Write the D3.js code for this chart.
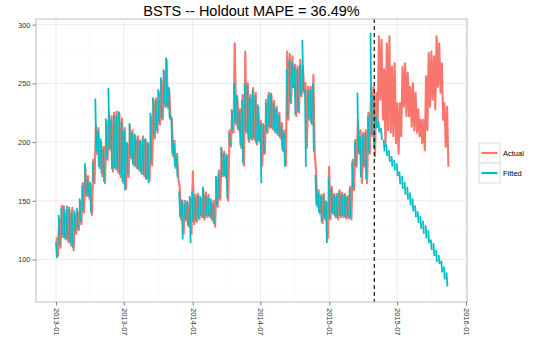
<!DOCTYPE html>
<html><head><meta charset="utf-8">
<script src="https://cdn.jsdelivr.net/npm/d3@7"></script>
<style>body{margin:0;background:#fff}svg text{font-family:"Liberation Sans",Arial,Helvetica,sans-serif}</style>
</head><body><svg id="c" width="540" height="355"></svg>
<script>
// ---- data (weekly high / low of the daily series) ----
const startDate = "2013-01-01";
const holdoutDate = "2015-05-01";
const chartTitle = "BSTS -- Holdout MAPE = 36.49%";
const seriesNames = ["Actual", "Fitted"];
const seriesColors = ["#F8766D", "#00BFC4"];
const xTickLabels = ["2013-01","2013-07","2014-01","2014-07","2015-01","2015-07","2016-01"];
const yTickValues = [100, 150, 200, 250, 300];

const actualHi = [119,135,146,140,145,142,144,139,140,150,
165,178,171,163,185,214,212,200,196,218,
226,222,225,226,224,220,212,198,214,210,
205,205,200,205,202,198,222,236,237,243,
252,260,270,245,220,201,190,161,150,150,
148,152,175,155,156,152,160,157,155,150,
150,170,176,194,192,188,210,226,284,238,
228,240,277,250,240,246,242,230,218,214,
236,242,240,235,230,225,216,210,277,275,
273,266,264,270,265,250,247,247,257,176,
159,155,156,148,179,162,156,156,159,157,
156,154,162,185,202,219,210,208,210,225,
247,247,242,290,287,262,284,290,264,267,
233,233,264,267,259,247,250,242,228,219,
219,256,276,277,273,290,284,267,233,230];
const actualLo = [103,110,119,117,115,112,108,122,125,130,
140,154,152,138,165,190,178,171,165,185,
193,175,177,174,170,165,160,170,186,180,
178,176,173,171,169,167,180,203,208,215,
219,230,229,219,188,178,168,134,122,133,
128,122,130,132,134,136,134,136,136,133,
128,145,151,171,170,150,196,208,215,210,
195,180,208,200,202,202,198,200,180,190,
208,212,211,208,206,203,192,180,219,233,
247,222,225,239,242,195,219,215,190,145,
139,131,134,118,134,139,136,134,136,136,
135,135,134,159,179,190,165,179,165,190,
205,188,213,236,219,196,210,208,205,199,
190,205,230,222,222,213,210,208,205,199,
193,210,230,236,228,247,242,219,196,179];
const fittedHi = [115,138,144,146,143,145,140,142,144,152,
163,182,168,166,183,237,210,203,194,220,
246,219,223,222,226,217,210,200,216,208,
207,202,202,203,203,200,225,238,235,245,
255,262,272,247,222,199,188,158,151,148,
150,154,158,153,155,154,162,155,153,152,
148,171,174,196,190,190,208,228,250,240,
226,236,250,248,238,244,240,232,215,216,
234,240,242,233,228,223,214,208,262,270,
268,264,262,266,287,245,244,245,250,172,
157,154,155,150,170,160,155,154,158,156,
155,153,160,183,200,242,205,206,208,222,
293,240,222,218,212,202,198,193,188,185,
182,175,171,166,162,157,152,146,141,137,
133,129,125,117,114,108,104,99,94,89];
const fittedLo = [101,112,121,118,117,114,110,123,126,132,
142,155,154,140,166,192,179,173,166,186,
194,177,178,176,172,166,159,172,188,181,
179,177,174,172,168,165,182,205,210,216,
220,232,230,220,190,179,170,136,117,134,
129,114,132,133,135,137,135,137,137,134,
130,146,152,172,171,152,197,210,216,211,
197,182,209,202,203,203,199,201,165,191,
209,213,212,209,207,204,193,179,220,234,
246,223,226,240,243,179,220,216,192,146,
140,132,135,114,135,140,137,135,137,137,
136,136,135,160,180,191,170,180,168,191,
206,195,212,208,202,192,188,183,179,176,
171,164,160,155,151,146,141,136,131,126,
122,118,114,108,103,98,96,89,83,77];

// ---- layout ----
const panel = {left: 36, right: 467, top: 19, bottom: 302};
const parse = d3.utcParse("%Y-%m-%d");
const t0 = parse(startDate);
const dayAt = n => new Date(t0.getTime() + n * 864e5);

const actualPts = [];
actualHi.forEach((h, w) => {
  actualPts.push({t: dayAt(w * 7 + 1.5), v: h});
  actualPts.push({t: dayAt(w * 7 + 5), v: actualLo[w]});
});
const fittedPts = [];
fittedHi.forEach((h, w) => {
  fittedPts.push({t: dayAt(w * 7), v: h});
  fittedPts.push({t: dayAt(w * 7 + 2.5), v: fittedLo[w]});
  fittedPts.push(null);
});

const x = d3.scaleUtc().domain([dayAt(-53.4), dayAt(1097.7)]).range([panel.left, panel.right]);
const y = d3.scaleLinear().domain([63.8, 304.8]).range([panel.bottom, panel.top]);

const svg = d3.select("#c");
svg.append("rect").attr("width", 540).attr("height", 355).attr("fill", "#fff");

const xTickDates = xTickLabels.map(s => parse(s + "-01"));
const xMinor = d3.pairs(xTickDates).map(([a, b]) => new Date((a.getTime() + b.getTime()) / 2));
const yMinor = d3.pairs(yTickValues).map(([a, b]) => (a + b) / 2).concat([yTickValues[0] - 25]);

const grid = svg.append("g");
grid.selectAll(".ymin").data(yMinor).join("line")
  .attr("x1", panel.left).attr("x2", panel.right)
  .attr("y1", d => y(d)).attr("y2", d => y(d))
  .attr("stroke", "#f6f6f6").attr("stroke-width", 0.6);
grid.selectAll(".xmin").data(xMinor).join("line")
  .attr("y1", panel.top).attr("y2", panel.bottom)
  .attr("x1", d => x(d)).attr("x2", d => x(d))
  .attr("stroke", "#f6f6f6").attr("stroke-width", 0.6);
grid.selectAll(".ymaj").data(yTickValues).join("line")
  .attr("x1", panel.left).attr("x2", panel.right)
  .attr("y1", d => y(d)).attr("y2", d => y(d))
  .attr("stroke", "#ebebeb").attr("stroke-width", 1);
grid.selectAll(".xmaj").data(xTickDates).join("line")
  .attr("y1", panel.top).attr("y2", panel.bottom)
  .attr("x1", d => x(d)).attr("x2", d => x(d))
  .attr("stroke", "#ebebeb").attr("stroke-width", 1);

svg.append("clipPath").attr("id", "clip").append("rect")
  .attr("x", panel.left).attr("y", panel.top)
  .attr("width", panel.right - panel.left).attr("height", panel.bottom - panel.top);

const line = d3.line().defined(d => d != null).x(d => x(d.t)).y(d => y(d.v));
const plot = svg.append("g").attr("clip-path", "url(#clip)");
plot.append("path").datum(actualPts).attr("d", line)
  .attr("fill", "none").attr("stroke", seriesColors[0]).attr("stroke-width", 2.1).attr("stroke-linejoin", "round");
plot.append("path").datum(fittedPts).attr("d", line)
  .attr("fill", "none").attr("stroke", seriesColors[1]).attr("stroke-width", 1.8);

const hx = x(parse(holdoutDate));
plot.append("line").attr("x1", hx).attr("x2", hx).attr("y1", panel.top).attr("y2", panel.bottom)
  .attr("stroke", "#000").attr("stroke-width", 1.1).attr("stroke-dasharray", "4,3");

svg.append("rect").attr("x", panel.left).attr("y", panel.top)
  .attr("width", panel.right - panel.left).attr("height", panel.bottom - panel.top)
  .attr("fill", "none").attr("stroke", "#bdbdbd").attr("stroke-width", 1);

// axes
const yAxis = svg.append("g").attr("transform", `translate(${panel.left},0)`)
  .call(d3.axisLeft(y).tickValues(yTickValues).tickSize(3.5).tickPadding(2));
const xAxis = svg.append("g").attr("transform", `translate(0,${panel.bottom})`)
  .call(d3.axisBottom(x).tickValues(xTickDates).tickSize(3.5).tickFormat(d3.utcFormat("%Y-%m")));
[yAxis, xAxis].forEach(g => {
  g.select(".domain").remove();
  g.selectAll(".tick line").attr("stroke", "#7f7f7f");
  g.selectAll(".tick text").attr("fill", "#333").style("font-size", "7.5px");
});
xAxis.selectAll(".tick text")
  .attr("transform", "rotate(90)").attr("x", 6).attr("y", 0).attr("dy", "0.35em")
  .attr("text-anchor", "start");

svg.append("text").attr("x", (panel.left + panel.right) / 2).attr("y", 15.5)
  .attr("text-anchor", "middle").style("font-size", "14.5px").attr("fill", "#000").text(chartTitle);

// legend
const lg = svg.append("g").attr("transform", "translate(479,143)");
seriesNames.forEach((name, i) => {
  const g = lg.append("g").attr("transform", `translate(0,${i * 20})`);
  g.append("rect").attr("width", 21).attr("height", 20).attr("fill", "#fff").attr("stroke", "#d0d0d0").attr("stroke-width", 0.8);
  g.append("line").attr("x1", 2.5).attr("x2", 18.5).attr("y1", 10).attr("y2", 10)
    .attr("stroke", seriesColors[i]).attr("stroke-width", 2.2);
  g.append("text").attr("x", 24).attr("y", 10).attr("dy", "0.35em")
    .style("font-size", "7.5px").attr("fill", "#000").text(name);
});
</script></body></html>
